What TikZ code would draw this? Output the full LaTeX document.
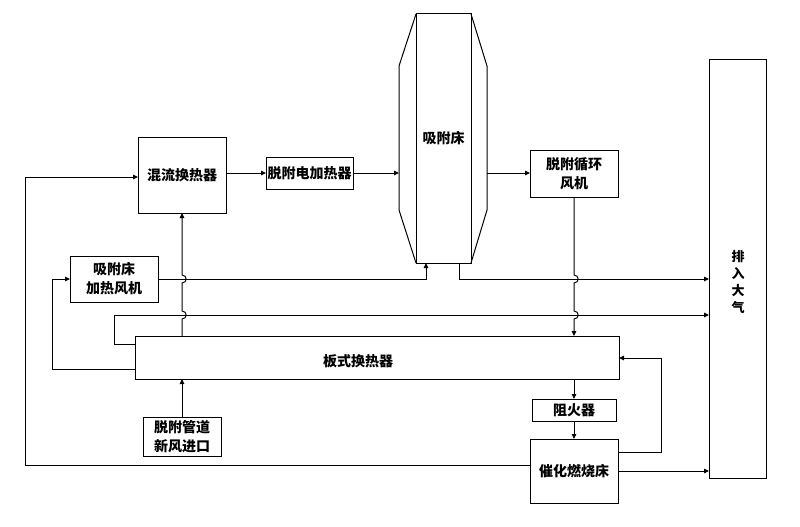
\documentclass[tikz,border=0pt]{standalone}
\usepackage{fontspec}
\newfontfamily\cjk{Noto Sans CJK SC}
\usetikzlibrary{arrows.meta}
\begin{document}
\begin{tikzpicture}[x=1pt,y=-1pt,line width=1pt,
  box/.style={draw,line width=1pt,inner sep=0pt,outer sep=0pt,align=center,
    font=\cjk\bfseries\fontsize{14}{19}\selectfont},
  lbl/.style={inner sep=0pt,align=center,font=\cjk\bfseries\fontsize{14}{19}\selectfont},
  arr/.style={-{Triangle[length=5pt,width=4.5pt]}}]
\useasboundingbox (0,0) rectangle (800,527);
% boxes
\node[box,minimum width=88pt,minimum height=76pt] (mix) at (182,175) {混流换热器};
\node[box,minimum width=87pt,minimum height=32pt] (eheat) at (309.5,173) {脱附电加热器};
\node[box,minimum width=55pt,minimum height=249pt] (bed) at (443.5,138.5) {吸附床};
\node[box,minimum width=88pt,minimum height=47pt] (fan) at (574,173.5) {脱附循环\\风机};
\node[box,minimum width=88pt,minimum height=46pt] (hfan) at (114,279) {吸附床\\加热风机};
\node[box,minimum width=484pt,minimum height=43pt] (plate) at (377,357.5) {};
\node[lbl] (platetxt) at (358,361) {板式换热器};
\node[box,minimum width=78pt,minimum height=39pt] (inlet) at (182,436.5) {脱附管道\\新风进口};
\node[box,minimum width=84pt,minimum height=22pt] (arrest) at (574,410) {阻火器};
\node[box,minimum width=88pt,minimum height=64pt] (cat) at (574,471) {催化燃烧床};
\node[box,minimum width=57pt,minimum height=418pt] (atm) at (737.5,269) {};
\node[lbl,font=\cjk\bfseries\fontsize{13}{17}\selectfont] (atmtxt) at (738,282) {排\\入\\大\\气};
% adsorption bed outer shell
\draw (bed.north west) -- (399,66) -- (399,210) -- (bed.south west);
\draw (bed.north east) -- (487,66) -- (487,210) -- (bed.south east);
\coordinate (bedL) at (399,173);
\coordinate (bedR) at (487,173);
\coordinate (bedIn) at (426,263);
\coordinate (bedOut) at (459,263);
% connectors
\draw[arr] (cat.west |- 0,465) -- (25,465) -- (25,177) -- (mix.west |- 0,177);
\draw[arr] (mix.east |- eheat.west) -- (eheat.west);
\draw[arr] (eheat.east) -- (bedL);
\draw[arr] (bedR) -- (fan.west |- bedR);
\draw[arr] (fan.south) -- (574,275) .. controls (579.5,275) and (579.5,283) .. (574,283)
  -- (574,311) .. controls (579.5,311) and (579.5,319) .. (574,319) -- (plate.north -| fan.south);
\draw[arr] (plate.north -| mix.south) -- (182,319) .. controls (187.5,319) and (187.5,311) .. (182,311)
  -- (182,283) .. controls (187.5,283) and (187.5,275) .. (182,275) -- (mix.south);
\draw[arr] (hfan.east) -| (bedIn);
\draw[arr] (bedOut) -- (459,279) -- (atm.west |- 0,279);
\draw[arr] (plate.west |- 0,344) -- (114,344) -- (114,315) -- (atm.west |- 0,315);
\draw[arr] (plate.west |- 0,369) -- (52,369) -- (52,279) -- (hfan.west);
\draw[arr] (inlet.north) -- (plate.south -| inlet.north);
\draw[arr] (plate.south -| arrest.north) -- (arrest.north);
\draw[arr] (arrest.south) -- (cat.north);
\draw[arr] (cat.east |- 0,452) -- (661,452) -- (661,358) -- (plate.east |- 0,358);
\draw[arr] (cat.east |- 0,471) -- (atm.west |- 0,471);
\end{tikzpicture}
\end{document}
